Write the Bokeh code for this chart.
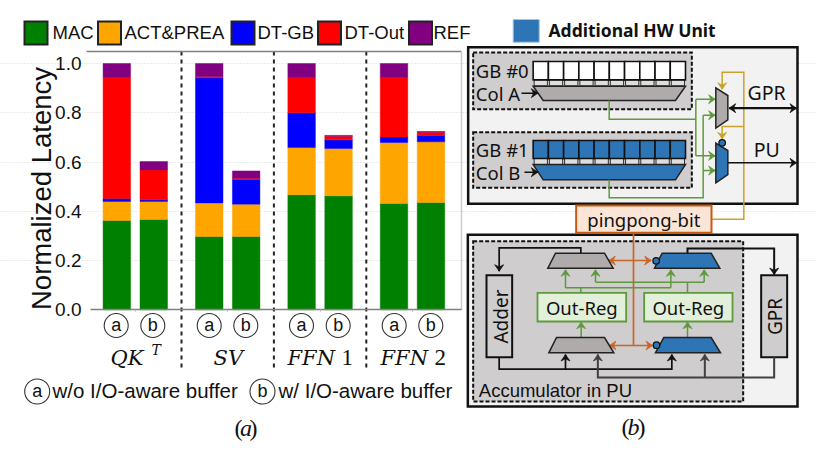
from math import pi, hypot
from bokeh.plotting import figure
from bokeh.embed import file_html
from bokeh.resources import INLINE
from bokeh.core.properties import value
from bokeh.models import ColumnDataSource, Range1d, LinearAxis, FixedTicker, Grid, PrintfTickFormatter

groups = ["QK", "SV", "FFN", "FFN"]
group_sub = ["T", "", "1", "2"]
variants = ["a", "b"]
series = ["MAC", "ACT&PREA", "DT-GB", "DT-Out", "REF"]
colors = ["#008000", "#FFA500", "#0000FF", "#FF0000", "#800080"]
mac = [.363, .367, .298, .298, .467, .463, .432, .436]
act = [.077, .073, .136, .131, .192, .192, .247, .246]
dt_gb = [.012, .007, .508, .100, .141, .035, .023, .026]
dt_out = [.491, .121, .005, .005, .142, .015, .241, .013]
ref = [.057, .034, .053, .030, .058, .003, .057, .003]
y_ticks = [0.0, 0.2, 0.4, 0.6, 0.8, 1.0]

W, H = 815, 447
X0, XS, Y0, YS = 134.8, 92.4, 309.3, 246.3
to_x = lambda px: (px - X0) / XS
to_y = lambda py: (Y0 - py) / YS

p = figure(width=W, height=H, output_backend="svg", toolbar_location=None,
           x_axis_location=None, y_axis_location=None,
           x_range=Range1d(to_x(0), to_x(W)), y_range=Range1d(to_y(H), to_y(0)),
           min_border=0, min_border_left=0, min_border_right=0, min_border_top=0, min_border_bottom=0,
           outline_line_color=None, background_fill_color="white", border_fill_color="white")
p.extra_x_ranges["px"] = Range1d(0, W)
p.extra_y_ranges["py"] = Range1d(H, 0)
PX = dict(x_range_name="px", y_range_name="py")
p.grid.visible = False

LEFT, RIGHT = to_x(90), to_x(460.5)
p.add_layout(Grid(dimension=1, ticker=FixedTicker(ticks=y_ticks[1:]), bounds=(LEFT, RIGHT),
                  grid_line_color="#D8D8D8", grid_line_dash="1 2", grid_line_width=1), "center")

names = ["mac", "act", "dt_gb", "dt_out", "ref"]
bar_x = [g + o for g in range(len(groups)) for o in (-0.2, 0.2)]
src = ColumnDataSource(dict(x=bar_x, mac=mac, act=act, dt_gb=dt_gb, dt_out=dt_out, ref=ref))
p.vbar_stack(names, x="x", width=0.298, color=colors, line_alpha=0.45, line_width=1, source=src)

yax = LinearAxis(fixed_location=LEFT, ticker=FixedTicker(ticks=y_ticks), axis_line_color=None,
                 major_tick_line_color=None, minor_tick_line_color=None, major_label_standoff=3,
                 major_label_text_font="Liberation Sans", major_label_text_font_size="19px",
                 major_label_text_color="#111111", formatter=PrintfTickFormatter(format="%.1f"))
p.add_layout(yax, "left")
xax = LinearAxis(fixed_location=0, ticker=FixedTicker(ticks=list(range(len(groups)))), bounds=(LEFT, RIGHT),
                 axis_line_color="#808080", axis_line_width=1.5, major_tick_line_color="#B0B0B0",
                 major_tick_in=0, major_tick_out=2, minor_tick_line_color=None,
                 major_label_overrides={i: "" for i in range(len(groups))})
p.add_layout(xax, "below")

p.segment([0.5, 1.5, 2.5], [to_y(51)] * 3, [0.5, 1.5, 2.5], [to_y(368)] * 3,
          line_color="#222222", line_width=2, line_dash="4 4")


def z3(x, y):
    return (460 + x / 3, y / 3)


def z4(x, y):
    return (460 + x / 3, 230 + y / 3)


def T(x, y, s, size, font="Liberation Sans", style="normal", angle=0.0, color="#111111", align="center"):
    p.text([x], [y], text=[s], text_font=value(font), text_font_size=value(f"{size}px"),
           text_font_style=style, text_align=align, text_baseline="middle",
           angle=angle, text_color=color, **PX)


def poly(pts, fill, line="#222222", lw=1.5):
    p.patch([a for a, _ in pts], [b for _, b in pts], fill_color=fill, line_color=line, line_width=lw,
            line_join="miter", **PX)


def box(x0, y0, x1, y1, fill, line="#111111", lw=2.0, dash="solid"):
    p.quad(left=[x0], right=[x1], top=[y0], bottom=[y1], fill_color=fill, line_color=line,
           line_width=lw, line_dash=dash, line_join="miter", **PX)


def head(tip, frm, color, L=6.5, Wd=4.5):
    dx, dy = tip[0] - frm[0], tip[1] - frm[1]
    n = hypot(dx, dy)
    dx, dy = dx / n, dy / n
    a = (tip[0] - dx * L - dy * Wd, tip[1] - dy * L + dx * Wd)
    b = (tip[0] - dx * L + dy * Wd, tip[1] - dy * L - dx * Wd)
    c = (tip[0] - dx * L * 0.65, tip[1] - dy * L * 0.65)
    p.patch([tip[0], a[0], c[0], b[0]], [tip[1], a[1], c[1], b[1]], fill_color=color, line_color=color,
            line_width=0.7, **PX)


def path(pts, color, lw=1.5, end=False, start=False):
    p.line([a for a, _ in pts], [b for _, b in pts], line_color=color, line_width=lw, line_join="miter", **PX)
    if end:
        head(pts[-1], pts[-2], color)
    if start:
        head(pts[0], pts[1], color)


def ring(x, y, d=24, fill="white", line="#333333", lw=1.1):
    p.scatter([x], [y], size=d, marker="circle", fill_color=fill, line_color=line, line_width=lw, **PX)


# frame lines of the bar chart
path([(86, 51), (461, 51)], "#808080", 1.5)
path([(461, 51), (461, 309.5)], "#CCCCCC", 1.5)

# legend
lg_x = [24, 97.5, 231, 317.5, 408.5]
lg_t = [52, 124, 257, 344, 433]
for sx, tx, n, c in zip(lg_x, lg_t, series, colors):
    box(sx, 21, sx + 23, 44, c, line="#222222", lw=2)
    T(tx, 32, n, 18.5, align="left")

T(41, 188, "Normalized Latency", 27.5, angle=pi / 2)

# circled bar labels
for i, px in enumerate([115.7, 152.3, 208.7, 245.3, 301, 337.7, 393.7, 430.3]):
    ring(px, 325)
    T(px, 324.5, variants[i % 2], 18)

# group names
SERIF = "DejaVu Serif"
ROMAN = "Liberation Serif"
T(110, 357, groups[0], 21, font=SERIF, style="italic", align="left")
T(151, 349, group_sub[0], 14, font=SERIF, style="italic", align="left")
T(213, 357, groups[1], 21, font=SERIF, style="italic", align="left")
T(287, 357, groups[2], 21, font=SERIF, style="italic", align="left")
T(341, 357, group_sub[2], 23, font=ROMAN, align="left")
T(380, 357, groups[3], 21, font=SERIF, style="italic", align="left")
T(434, 357, group_sub[3], 23, font=ROMAN, align="left")

# bottom key
ring(36.7, 391, 25)
T(36.7, 390.5, "a", 18)
T(52, 390, "w/o I/O-aware buffer", 20.5, align="left")
ring(262, 391, 25)
T(262, 390.5, "b", 18)
T(278, 390, "w/ I/O-aware buffer", 20.5, align="left")
T(238, 427, "(", 24, font=ROMAN)
T(245.5, 427, "a", 24, font=ROMAN, style="italic")
T(253, 427, ")", 24, font=ROMAN)

# ---- diagram (b) ----
SANS = "Noto Sans"
BLUE, GRAY, LGRAY = "#2E75B6", "#AFABAB", "#CFCDCD"
GREEN, GOLD, ORANGE = "#5E9A3C", "#C9A227", "#C8662A"
box(512.7, 19, 538.7, 41.7, BLUE, line="#9DC3E6", lw=1)
T(548, 29.5, "Additional  HW Unit", 17.5, font="Noto Sans", style="bold", align="left")

box(*z3(23, 140), *z3(1011, 610), "#F2F2F2", lw=2.5)
for top, bot in [(156, 326), (395, 562)]:
    box(*z3(38, top), *z3(694, bot), LGRAY, lw=2, dash="4 2")

for row, (cy0, cy1, fill, tz) in enumerate([(183, 238, "white", (257, 300)), (420, 474, BLUE, (492, 538))]):
    for k in range(10):
        x0 = 218 + k * 45.7
        box(*z3(x0 + 3, cy1), *z3(x0 + 42.7, cy1 + 18), "#DEDEDE", line="#333333", lw=1)
        box(*z3(x0, cy0), *z3(x0 + 45.7, cy1), fill, lw=1.6)
    a, b = tz
    poly([z3(218, a), z3(675, a), z3(645, b), z3(248, b)], GRAY if row == 0 else BLUE)

T(*z3(46, 210), "GB #0", 18.5, font=SANS, align="left")
T(*z3(46, 278), "Col A", 18.5, font=SANS, align="left")
T(*z3(46, 447), "GB #1", 18.5, font=SANS, align="left")
T(*z3(46, 515), "Col B", 18.5, font=SANS, align="left")
path([z3(183, 278), z3(232, 278)], "#111111", 1.5, end=True)
path([z3(192, 515), z3(232, 515)], "#111111", 1.5, end=True)

# green routing
path([z3(446, 300), z3(446, 356), z3(706, 356)], GREEN)
path([z3(706, 296), z3(706, 466)], GREEN)
path([z3(706, 296), z3(764, 296)], GREEN, end=True)
path([z3(706, 466), z3(764, 466)], GREEN, end=True)
path([z3(446, 538), z3(446, 592), z3(728, 592), z3(728, 344)], GREEN)
path([z3(728, 344), z3(764, 344)], GREEN, end=True)
path([z3(728, 510), z3(764, 510)], GREEN, end=True)

# gold routing
path([z3(755, 656), z3(850, 656), z3(850, 215), z3(785, 215), z3(785, 266)], GOLD, end=True)
path([z3(850, 378), z3(785, 378), z3(785, 415)], GOLD, end=True)

# muxes
poly([z3(766, 262), z3(802, 285), z3(802, 358), z3(766, 383)], GRAY)
poly([z3(766, 428), z3(802, 450), z3(802, 522), z3(766, 547)], BLUE)
ring(*z3(785, 427), 6.5, fill=BLUE, line="#111111", lw=1.3)

path([z3(806, 323), z3(1008, 323)], "#111111", 2.3, end=True, start=True)
path([z3(802, 487), z3(1008, 487)], "#111111", 1.5, end=True)
T(*z3(918, 277), "GPR", 19.5, font=SANS)
T(*z3(919, 447), "PU", 19.5, font=SANS)

# lower box
box(*z4(22, 13), *z4(1011, 528), "#F2F2F2", lw=2.5)
box(*z4(38, 32), *z4(848, 513), LGRAY, lw=2, dash="4 2")
box(*z4(78, 134), *z4(155, 380), LGRAY)
box(*z4(902, 134), *z4(980, 380), LGRAY)
T(*z4(120, 258), "Adder", 19, font=SANS, angle=pi / 2)
T(*z4(944, 258), "GPR", 19, font=SANS, angle=pi / 2)
T(*z4(55, 480), "Accumulator in PU", 18.5, font="Liberation Sans", align="left")

# orange routing
path([z3(519, 697), z4(519, 345)], ORANGE, 1.7)
path([z4(445, 90), z4(572, 90)], ORANGE, 1.7, end=True, start=True)
path([z4(447, 345), z4(576, 345)], ORANGE, 1.7, end=True, start=True)

# green routing of the accumulator
path([z4(361, 187), z4(361, 172)], GREEN)
path([z4(315, 172), z4(631, 172)], GREEN)
path([z4(315, 172), z4(315, 118)], GREEN, end=True)
path([z4(631, 172), z4(631, 118)], GREEN, end=True)
path([z4(681, 187), z4(681, 155)], GREEN)
path([z4(405, 155), z4(731, 155)], GREEN)
path([z4(405, 155), z4(405, 118)], GREEN, end=True)
path([z4(731, 155), z4(731, 118)], GREEN, end=True)
path([z4(362, 321), z4(362, 275)], GREEN, end=True)
path([z4(681, 321), z4(681, 275)], GREEN, end=True)

# black routing
path([z4(361, 68), z4(361, 52), z4(116, 52), z4(116, 122)], "#111111", 1.7, end=True)
path([z4(681, 68), z4(681, 54), z4(941, 54), z4(941, 132)], "#111111", 2, end=True)
path([z4(116, 380), z4(116, 416), z4(634, 416), z4(634, 372)], "#111111", 1.7, end=True)
path([z4(315, 416), z4(315, 372)], "#111111", 1.7, end=True)
DG = "#404040"
path([z4(941, 380), z4(941, 441), z4(412, 441), z4(412, 372)], DG, 2, end=True)
path([z4(733, 441), z4(733, 372)], DG, 2, end=True)

# accumulator muxes
poly([z4(285, 68), z4(432, 68), z4(458, 113), z4(262, 113)], GRAY)
poly([z4(605, 68), z4(752, 68), z4(778, 113), z4(582, 113)], BLUE)
poly([z4(288, 321), z4(432, 321), z4(460, 367), z4(265, 367)], GRAY)
poly([z4(610, 321), z4(752, 321), z4(780, 367), z4(585, 367)], BLUE)
ring(*z4(587, 91), 6.5, fill=BLUE, line="#111111", lw=1.3)
ring(*z4(588, 344), 6.5, fill=BLUE, line="#111111", lw=1.3)

for x0, x1 in [(231, 497), (551, 816)]:
    box(*z4(x0, 187), *z4(x1, 273), "#E2F0D9", line=GREEN, lw=1.8)
    T(*z4((x0 + x1) / 2, 232), "Out-Reg", 18.5, font=SANS)

box(*z3(347, 615), *z3(753, 697), "#FBE5D6", line="#C55A11", lw=2)
T(*z3(550, 658), "pingpong-bit", 18.5, font=SANS)

T(625, 426, "(", 24, font=ROMAN)
T(633, 426, "b", 24, font=ROMAN, style="italic")
T(641, 426, ")", 24, font=ROMAN)

open("out.html", "w").write(file_html(p, INLINE))
